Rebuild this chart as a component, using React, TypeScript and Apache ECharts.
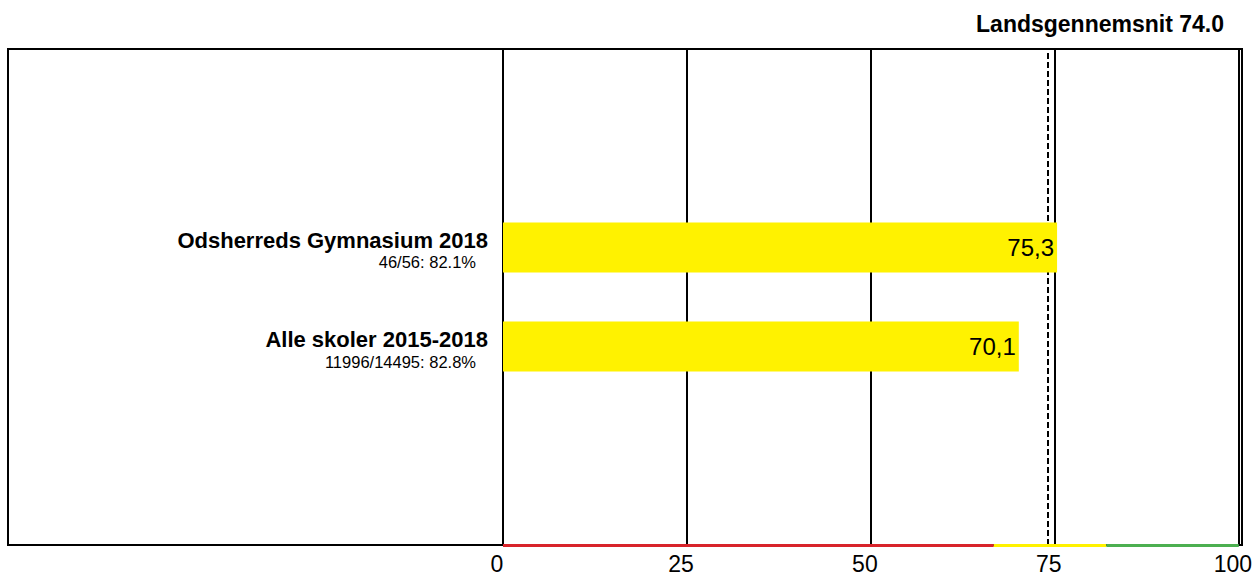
import React, { useEffect, useRef } from "react";
import * as echarts from "echarts";

const categories = ["p0", "p1", "Alle skoler 2015-2018", "Odsherreds Gymnasium 2018", "p4", "p5"];
const subLabels: Record<string, string> = {
  "Alle skoler 2015-2018": "11996/14495: 82.8%",
  "Odsherreds Gymnasium 2018": "46/56: 82.1%",
};
const values = [null, null, 70.1, 75.3, null, null];
const nationalAverage = 74.0;
const xTicks = [0, 25, 50, 75, 100];
const bands = [
  { from: 0, to: 66.7, color: "#d8232a" },
  { from: 66.7, to: 82, color: "#fff200" },
  { from: 82, to: 100, color: "#4caf50" },
];

const FONT = "Liberation Sans, Arial, sans-serif";

export default function App() {
  const ref = useRef<HTMLDivElement>(null);
  useEffect(() => {
    if (!ref.current) return;
    const chart = echarts.init(ref.current, undefined, { renderer: "svg" });
    chart.setOption({
      animation: false,
      textStyle: { fontFamily: FONT },
      title: {
        text: "Landsgennemsnit " + nationalAverage.toFixed(1),
        right: 26,
        top: 7,
        textStyle: { fontFamily: FONT, fontWeight: "bold", fontSize: 23, color: "#000" },
      },
      grid: { left: 503, right: 12, top: 49, bottom: 31 },
      graphic: [
        {
          type: "rect",
          z: 0,
          shape: { x: 8, y: 49, width: 1234, height: 496 },
          style: { fill: "none", stroke: "#000", lineWidth: 2 },
          silent: true,
        },
      ],
      xAxis: {
        type: "value",
        min: xTicks[0],
        max: xTicks[xTicks.length - 1],
        interval: 25,
        axisLine: { show: false },
        axisTick: { show: false },
        splitLine: { show: true, lineStyle: { color: "#000", width: 2 } },
        axisLabel: {
          fontFamily: FONT,
          fontSize: 23,
          color: "#000",
          margin: 7,
          padding: [0, 12, 0, 0],
        },
      },
      yAxis: {
        type: "category",
        data: categories,
        boundaryGap: false,
        axisLine: { show: true, lineStyle: { color: "#000", width: 2 } },
        axisTick: { show: false },
        splitLine: { show: false },
        axisLabel: {
          margin: 15,
          padding: [6, 0, 0, 0],
          fontSize: 16.5,
          formatter: (v: string) => (subLabels[v] ? `{a|${v}}\n{b|${subLabels[v]}}` : ""),
          rich: {
            a: { fontFamily: FONT, fontWeight: "bold", fontSize: 22, color: "#000", lineHeight: 24, align: "right" },
            b: { fontFamily: FONT, fontSize: 16.5, color: "#000", lineHeight: 20, align: "right", padding: [0, 12, 0, 0] },
          },
        },
      },
      series: [
        {
          type: "bar",
          data: values,
          barWidth: 50,
          z: 2,
          itemStyle: { color: "#fff200" },
          label: {
            show: true,
            position: "insideRight",
            distance: 3,
            fontFamily: FONT,
            fontSize: 24,
            color: "#000",
            formatter: (p: any) => String(p.value.toFixed(1)).replace(".", ","),
          },
          markLine: {
            z: 10,
            silent: true,
            symbol: "none",
            label: { show: false },
            data: bands.map((b) => [
              { coord: [b.from, 0], lineStyle: { color: b.color, width: 3, type: "solid" } },
              { coord: [b.to, 0] },
            ]),
          },
        },
        {
          type: "line",
          data: [],
          z: 1,
          markLine: {
            z: 1,
            silent: true,
            symbol: "none",
            label: { show: false },
            lineStyle: { color: "#000", width: 2, type: [6, 3] },
            data: [{ xAxis: nationalAverage }],
          },
        },
      ],
    });
    return () => chart.dispose();
  }, []);
  return <div ref={ref} style={{ width: 1255, height: 576, position: "absolute", left: 0, top: 0 }} />;
}
